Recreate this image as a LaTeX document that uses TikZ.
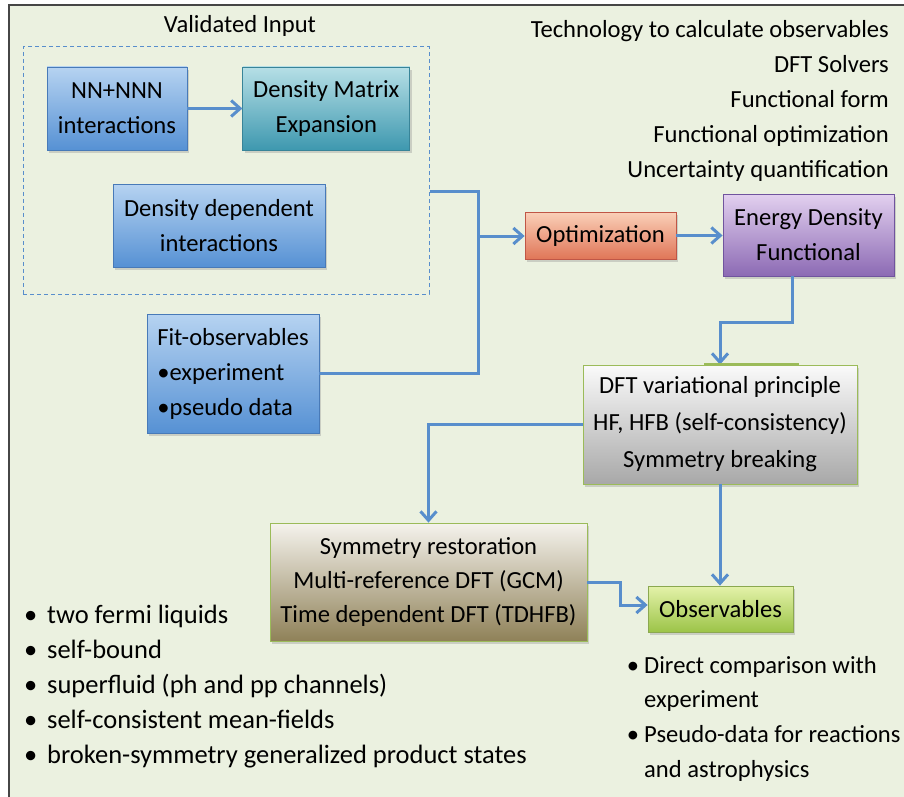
\documentclass[tikz,border=0pt]{standalone}
\usepackage{fontspec}
\setmainfont{Carlito}
\usetikzlibrary{arrows.meta, positioning, shadows}

\definecolor{bggreen}{RGB}{235,241,224}
\definecolor{framegray}{RGB}{70,70,70}
\definecolor{linkblue}{RGB}{88,142,204}
\definecolor{bluetop}{RGB}{182,211,241}
\definecolor{bluebot}{RGB}{86,145,212}
\definecolor{bluedraw}{RGB}{72,122,184}
\definecolor{tealtop}{RGB}{182,223,230}
\definecolor{tealbot}{RGB}{62,152,175}
\definecolor{tealdraw}{RGB}{56,132,152}
\definecolor{orangetop}{RGB}{250,208,184}
\definecolor{orangebot}{RGB}{224,118,88}
\definecolor{orangedraw}{RGB}{192,86,70}
\definecolor{purpletop}{RGB}{226,208,239}
\definecolor{purplebot}{RGB}{140,106,180}
\definecolor{purpledraw}{RGB}{112,84,158}
\definecolor{graytop}{RGB}{250,250,250}
\definecolor{graybot}{RGB}{168,168,168}
\definecolor{olivetop}{RGB}{245,243,237}
\definecolor{olivebot}{RGB}{143,129,88}
\definecolor{limetop}{RGB}{228,242,170}
\definecolor{limebot}{RGB}{156,196,72}
\definecolor{greenedge}{RGB}{155,187,89}

\begin{document}
\begin{tikzpicture}[x=1pt, y=-1pt,
  box/.style      = {draw, line width=0.8pt, align=center, inner sep=2pt,
                     font=\fontsize{24.6}{35}\selectfont,
                     drop shadow={shadow xshift=2pt, shadow yshift=-3pt, opacity=0.3}},
  bluebox/.style  = {box, draw=bluedraw, top color=bluetop, bottom color=bluebot},
  tealbox/.style  = {box, draw=tealdraw, top color=tealtop, bottom color=tealbot},
  optbox/.style   = {box, draw=orangedraw, top color=orangetop, bottom color=orangebot},
  edfbox/.style   = {box, draw=purpledraw, top color=purpletop, bottom color=purplebot},
  dftbox/.style   = {box, draw=greenedge, top color=graytop, bottom color=graybot},
  symbox/.style   = {box, draw=greenedge, top color=olivetop, bottom color=olivebot},
  obsbox/.style   = {box, draw=greenedge!90!black, top color=limetop, bottom color=limebot},
  validbox/.style = {draw=linkblue, dash pattern=on 4pt off 3pt, line width=1pt,
                     minimum width=406pt, minimum height=247pt},
  note/.style     = {inner sep=0pt, font=\fontsize{24.6}{35}\selectfont},
  link/.style     = {draw=linkblue, line width=3pt},
  arrow/.style    = {link, -{Straight Barb[length=9pt, width=16pt]}}]

  \path[use as bounding box] (0,0) rectangle (904,797);
  \clip (0,0) rectangle (904,797);
  \fill[white] (0,0) rectangle (904,797);
  \filldraw[fill=bggreen, draw=framegray, line width=1.5pt] (9,5) rectangle (930,820);

  % validated input
  \node[validbox] (valid) at (226,170.5) {};
  \node[note, anchor=base] (validtitle) at (240,33) {Validated Input};
  \node[bluebox, minimum width=140pt, minimum height=83pt] (nn) at (117,108.5)
       {NN+NNN\\interactions};
  \node[tealbox, minimum width=167pt, minimum height=83pt, right=55pt of nn] (dme)
       {Density Matrix\\Expansion};
  \node[bluebox, minimum width=212pt, minimum height=83pt] (ddi) at (219,225.5)
       {Density dependent\\interactions};
  \node[bluebox, minimum width=172pt, minimum height=119pt, align=left] (fit) at (233,373.5)
       {Fit-observables\\•experiment\\•pseudo data};

  % functional
  \node[optbox, minimum width=151pt, minimum height=47pt] (opt) at (600.5,235.5) {Optimization};
  \node[edfbox, minimum width=171pt, minimum height=82pt] (edf) at (808.5,235)
       {Energy Density\\Functional};
  \node[dftbox, minimum width=274pt, minimum height=119pt,
        font=\fontsize{24.6}{37}\selectfont] (dft) at (720,424.5)
       {DFT variational principle\\HF, HFB (self-consistency)\\Symmetry breaking};
  \node[symbox, minimum width=317pt, minimum height=118pt, font=\fontsize{24.6}{34}\selectfont]
       (sym) at (428.5,582)
       {Symmetry restoration\\Multi-reference DFT (GCM)\\Time dependent DFT (TDHFB)};
  \node[obsbox, minimum width=145pt, minimum height=46pt] (obs) at (720.5,609) {Observables};

  % texts
  \foreach \txt [count=\i from 0] in {Technology to calculate observables, DFT Solvers,
      Functional form, Functional optimization, Uncertainty quantification}
    \node[note, anchor=base east] (tech\i) at (889,38+34.75*\i) {\txt};
  \foreach \txt [count=\i from 0] in {two fermi liquids, self-bound,
      superfluid (ph and pp channels), self-consistent mean-fields,
      broken-symmetry generalized product states}
    \node[note, anchor=base west, font=\fontsize{26.5}{35}\selectfont] (prop\i)
      at (47,623+35*\i) {\llap{•\hspace{10pt}}\txt};
  \foreach \b/\txt [count=\i from 0] in {•/Direct comparison with, /experiment,
      •/Pseudo-data for reactions, /and astrophysics}
    \node[note, anchor=base west] (use\i) at (644,673+34.8*\i) {\llap{\b\hspace{5pt}}\txt};

  % connectors
  \coordinate (merge) at (478,236);
  \draw[arrow] (nn) -- (dme);
  \draw[link] ([yshift=-20.5pt]valid.east) -| (merge);
  \draw[link] (fit.east) -| (merge);
  \draw[arrow] (merge) -- (merge -| opt.west);
  \draw[arrow] (opt.east) -- (opt.east -| edf.west);
  \draw[arrow] ([xshift=-16.5pt]edf.south) -- ++(0,46) -| (dft.north);
  \draw[draw=greenedge, line width=2.5pt] ([xshift=-16pt]dft.north) -- ([xshift=79pt]dft.north);
  \draw[arrow] (dft.west) -| (sym.north);
  \draw[arrow] (dft.south) -- (dft.south |- obs.north);
  \draw[arrow] (sym.east) -- ++(33,0) |- ([yshift=4pt]obs.west);
\end{tikzpicture}
\end{document}
